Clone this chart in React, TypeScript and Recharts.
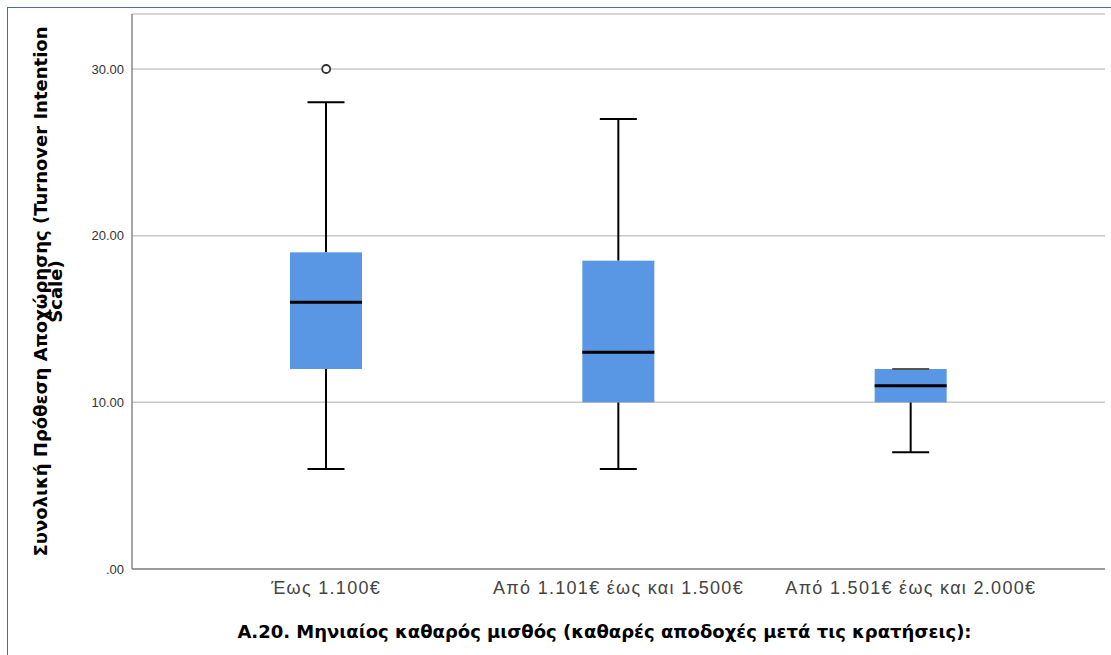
import { ComposedChart, Bar, Scatter, XAxis, YAxis, CartesianGrid } from 'recharts';

const categories = ['Έως 1.100€', 'Από 1.101€ έως και 1.500€', 'Από 1.501€ έως και 2.000€'];
const whiskerLow = [6, 6, 7];
const q1 = [12, 10, 10];
const median = [16, 13, 11];
const q3 = [19, 18.5, 12];
const whiskerHigh = [28, 27, 12];
const outliers = [30, null, null];
const yTicks = [0, 10, 20, 30];

const Y_LABEL = ['Συνολική Πρόθεση Αποχώρησης (Turnover Intention', 'Scale)'];
const X_LABEL = 'Α.20. Μηνιαίος καθαρός μισθός (καθαρές αποδοχές μετά τις κρατήσεις):';

const BOX_FILL = '#5996e4';
const FONT = '"Liberation Sans", Arial, sans-serif';
const BOLD_FONT = '"DejaVu Sans", sans-serif';

const data = categories.map((name, i) => ({
  name,
  range: [whiskerLow[i], whiskerHigh[i]],
  lo: whiskerLow[i],
  q1: q1[i],
  med: median[i],
  q3: q3[i],
  hi: whiskerHigh[i],
  outlier: outliers[i],
}));

// draws whiskers, box and median inside the range bar's rectangle
function BoxShape(props: any) {
  const { x, y, width, height, payload } = props;
  const { lo, q1, med, q3, hi } = payload;
  const k = hi - lo > 0 ? height / (hi - lo) : 0;
  const py = (v: number) => y + (hi - v) * k;
  const cx = x + width / 2;
  const cap = 37;
  return (
    <g>
      <line x1={cx} x2={cx} y1={py(hi)} y2={py(q3)} stroke="#000" strokeWidth={2} />
      <line x1={cx} x2={cx} y1={py(q1)} y2={py(lo)} stroke="#000" strokeWidth={2} />
      <rect x={x} y={py(q3)} width={width} height={py(q1) - py(q3)} fill={BOX_FILL} />
      <line x1={cx - cap / 2} x2={cx + cap / 2} y1={py(hi)} y2={py(hi)} stroke={hi === q3 ? '#555' : '#000'} strokeWidth={2} />
      <line x1={cx - cap / 2} x2={cx + cap / 2} y1={py(lo)} y2={py(lo)} stroke="#000" strokeWidth={2} />
      <line x1={x} x2={x + width} y1={py(med)} y2={py(med)} stroke="#000" strokeWidth={3} />
    </g>
  );
}

function OutlierDot(props: any) {
  const { cx, cy } = props;
  if (cx == null || cy == null) return <g />;
  return <circle cx={cx} cy={cy} r={4} fill="#fff" stroke="#333" strokeWidth={1.8} />;
}

function YLabel(props: any) {
  const { viewBox } = props;
  const cy = viewBox.y + viewBox.height / 2;
  return (
    <text
      transform={`rotate(-90, 47, ${cy})`}
      x={47}
      y={cy}
      textAnchor="middle"
      fontFamily={BOLD_FONT}
      fontWeight="bold"
      fontSize={18}
      fill="#000"
    >
      <tspan x={47} dy={0}>{Y_LABEL[0]}</tspan>
      <tspan x={47} dy={15}>{Y_LABEL[1]}</tspan>
    </text>
  );
}

function XLabel(props: any) {
  const { viewBox } = props;
  // SPSS centres the title a little left of the plot centre
  const cx = viewBox.x + viewBox.width / 2 - 14;
  return (
    <text
      x={cx}
      y={638}
      textAnchor="middle"
      fontFamily={BOLD_FONT}
      fontWeight="bold"
      fontSize={18}
      fill="#000"
    >
      {X_LABEL}
    </text>
  );
}

export default function App() {
  return (
    <div style={{ position: 'absolute', left: 0, top: 0, width: 1111, height: 655, background: '#fff' }}>
      <div
        style={{
          position: 'absolute',
          left: 7,
          top: 7,
          width: 1104,
          height: 648,
          borderTop: '1px solid #4a6aa8',
          borderLeft: '1px solid #4a6aa8',
        }}
      />
      <ComposedChart
        width={1111}
        height={655}
        data={data}
        margin={{ top: 14, right: 6, bottom: 56, left: 72 }}
        style={{ position: 'absolute', left: 0, top: 0 }}
      >
        <CartesianGrid vertical={false} stroke="#c8c8c8" strokeWidth={1.5} />
        <XAxis
          dataKey="name"
          height={30}
          padding={{ left: 48, right: 48 }}
          tickLine={false}
          axisLine={{ stroke: '#888', strokeWidth: 1.5 }}
          tick={{ fontSize: 18, fill: '#444', fontFamily: FONT, letterSpacing: 1.3 }}
          tickMargin={6}
          interval={0}
          label={<XLabel />}
        />
        <YAxis
          width={60}
          domain={[0, 33.3]}
          ticks={yTicks}
          tickFormatter={(v: number) => (v === 0 ? '.00' : v.toFixed(2))}
          tickLine={false}
          axisLine={{ stroke: '#888', strokeWidth: 1.5 }}
          tick={{ fontSize: 13, fill: '#333', fontFamily: FONT }}
          label={<YLabel />}
        />
        <Bar dataKey="range" barSize={72} shape={<BoxShape />} isAnimationActive={false} />
        <Scatter dataKey="outlier" shape={<OutlierDot />} isAnimationActive={false} />
      </ComposedChart>
    </div>
  );
}
